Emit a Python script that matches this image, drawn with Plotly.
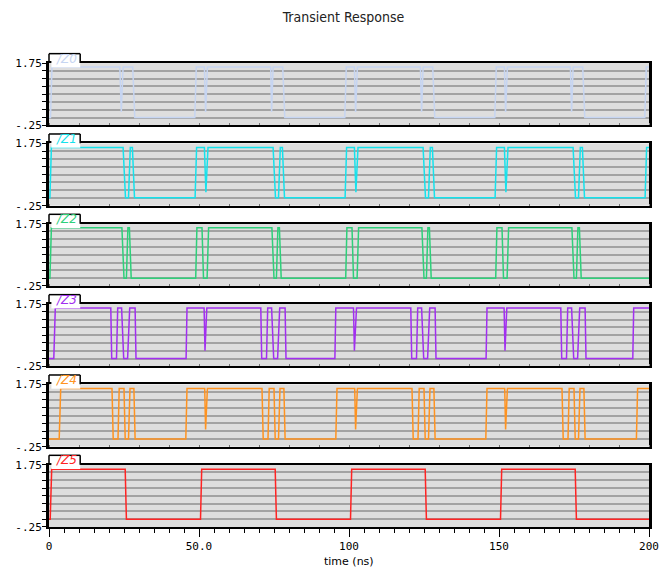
import plotly.graph_objects as go
from plotly.subplots import make_subplots

# ---------------- data (time in ns, voltage in V) ----------------
signal_names = ["/Z0", "/Z1", "/Z2", "/Z3", "/Z4", "/Z5"]
signal_colors = ["#c6d5f2", "#16e2ec", "#2ed07a", "#a22ff0", "#ff9320", "#ff2424"]

z0_t = [0, 0.5, 1.0, 23.6, 24.1, 24.7, 27.9, 28.6, 48.6, 49.1, 51.8, 52.2, 52.8,
        73.9, 74.2, 74.7, 77.9, 78.6, 98.6, 99.1, 101.8, 102.2, 102.8,
        123.8, 124.2, 124.7, 127.9, 128.6, 148.6, 149.1, 151.8, 152.2, 152.8,
        173.8, 174.2, 174.7, 177.9, 178.6, 198.6, 199.1, 200]
z0_v = [0, 0, 1.62, 1.62, 0.18, 1.62, 1.62, 0, 0, 1.62, 1.62, 0.18, 1.62,
        1.62, 0.18, 1.62, 1.62, 0, 0, 1.62, 1.62, 0.18, 1.62,
        1.62, 0.18, 1.62, 1.62, 0, 0, 1.62, 1.62, 0.18, 1.62,
        1.62, 0.18, 1.62, 1.62, 0, 0, 1.62, 1.62]

z1_t = [0, 0.3, 0.8, 24.7, 25.5, 26.5, 27.1, 27.8, 28.5, 48.7, 49.2, 51.8, 52.3, 53.0,
        74.7, 75.5, 76.5, 77.1, 77.8, 78.5, 98.7, 99.2, 101.8, 102.3, 103.0,
        124.7, 125.5, 126.5, 127.1, 127.8, 128.5, 148.7, 149.2, 151.8, 152.3, 153.0,
        174.7, 175.5, 176.5, 177.1, 177.8, 178.5, 198.7, 199.2, 200]
z1_v = [0, 0, 1.62, 1.62, 0, 0, 1.62, 1.62, 0, 0, 1.62, 1.62, 0.18, 1.62,
        1.62, 0, 0, 1.62, 1.62, 0, 0, 1.62, 1.62, 0.18, 1.62,
        1.62, 0, 0, 1.62, 1.62, 0, 0, 1.62, 1.62, 0.18, 1.62,
        1.62, 0, 0, 1.62, 1.62, 0, 0, 1.62, 1.62]

z2_t = [0, 0.3, 0.8, 24.3, 25.0, 25.8, 26.3, 26.8, 27.4, 48.9, 49.3, 51.0, 51.5, 52.7, 53.2,
        74.3, 75.0, 75.8, 76.3, 76.8, 77.4, 98.9, 99.3, 101.0, 101.5, 102.7, 103.2,
        124.3, 125.0, 125.8, 126.3, 126.8, 127.4, 148.9, 149.3, 151.0, 151.5, 152.7, 153.2,
        174.3, 175.0, 175.8, 176.3, 176.8, 177.4, 200]
z2_v = [0, 0, 1.62, 1.62, 0, 0, 1.62, 1.62, 0, 0, 1.62, 1.62, 0, 0, 1.62,
        1.62, 0, 0, 1.62, 1.62, 0, 0, 1.62, 1.62, 0, 0, 1.62,
        1.62, 0, 0, 1.62, 1.62, 0, 0, 1.62, 1.62, 0, 0, 1.62,
        1.62, 0, 0, 1.62, 1.62, 0, 0]

z3_t = [0, 1.6, 2.1, 20.6, 20.9, 22.5, 22.9, 24.2, 24.9, 26.2, 26.9, 28.7, 29.0,
        45.7, 46.0, 51.7, 52.0, 52.6,
        70.6, 70.9, 72.5, 72.9, 74.2, 74.9, 76.2, 76.9, 78.7, 79.0,
        95.3, 95.6, 101.5, 101.8, 102.5,
        120.6, 120.9, 122.5, 122.9, 124.2, 124.9, 126.2, 126.9, 128.7, 129.0,
        145.7, 146.0, 151.7, 152.0, 152.6,
        170.6, 170.9, 172.5, 172.9, 174.2, 174.9, 176.2, 176.9, 178.7, 179.0,
        194.6, 194.9, 200]
z3_v = [0, 0, 1.62, 1.62, 0, 0, 1.62, 1.62, 0, 0, 1.62, 1.62, 0,
        0, 1.62, 1.62, 0.25, 1.62,
        1.62, 0, 0, 1.62, 1.62, 0, 0, 1.62, 1.62, 0,
        0, 1.62, 1.62, 0.25, 1.62,
        1.62, 0, 0, 1.62, 1.62, 0, 0, 1.62, 1.62, 0,
        0, 1.62, 1.62, 0.25, 1.62,
        1.62, 0, 0, 1.62, 1.62, 0, 0, 1.62, 1.62, 0,
        0, 1.62, 1.62]

z4_t = [0, 3.4, 3.9, 21.0, 21.4, 23.0, 23.4, 25.0, 25.4, 26.5, 27.0, 28.3, 28.7,
        45.6, 46.0, 51.9, 52.2, 52.8,
        71.0, 71.4, 73.0, 73.4, 75.0, 75.4, 76.5, 77.0, 78.3, 78.7,
        95.6, 96.0, 101.9, 102.2, 102.8,
        121.0, 121.4, 123.0, 123.4, 125.0, 125.4, 126.5, 127.0, 128.3, 128.7,
        145.6, 146.0, 151.9, 152.2, 152.8,
        171.0, 171.4, 173.0, 173.4, 175.0, 175.4, 176.5, 177.0, 178.3, 178.7,
        195.8, 196.2, 200]
z4_v = [0, 0, 1.62, 1.62, 0, 0, 1.62, 1.62, 0, 0, 1.62, 1.62, 0,
        0, 1.62, 1.62, 0.3, 1.62,
        1.62, 0, 0, 1.62, 1.62, 0, 0, 1.62, 1.62, 0,
        0, 1.62, 1.62, 0.3, 1.62,
        1.62, 0, 0, 1.62, 1.62, 0, 0, 1.62, 1.62, 0,
        0, 1.62, 1.62, 0.3, 1.62,
        1.62, 0, 0, 1.62, 1.62, 0, 0, 1.62, 1.62, 0,
        0, 1.62, 1.62]

z5_t = [0, 0.4, 0.9, 25.4, 25.8, 50.5, 50.9, 75.4, 75.8, 100.5, 100.9,
        125.4, 125.8, 150.5, 150.9, 175.4, 175.8, 200]
z5_v = [0, 0, 1.6, 1.6, 0, 0, 1.6, 1.6, 0, 0, 1.6,
        1.6, 0, 0, 1.6, 1.6, 0, 0]

series_t = [z0_t, z1_t, z2_t, z3_t, z4_t, z5_t]
series_v = [z0_v, z1_v, z2_v, z3_v, z4_v, z5_v]

x_tick_vals = [0, 50, 100, 150, 200]
x_tick_text = ["0", "50.0", "100", "150", "200"]
y_tick_vals = [-0.25, 1.75]
y_tick_text = ["-.25", "1.75"]

# ---------------- figure ----------------
n = len(signal_names)
fig = make_subplots(rows=n, cols=1, shared_xaxes=True, vertical_spacing=0.0388)

tick_font = dict(family="DejaVu Sans Mono, monospace", size=11, color="black")

for i in range(n):
    r = i + 1
    fig.add_trace(go.Scatter(x=series_t[i], y=series_v[i], mode="lines",
                             line=dict(color=signal_colors[i], width=1.5),
                             showlegend=False, hoverinfo="skip"), row=r, col=1)
    fig.update_yaxes(range=[-0.25, 1.75], tickvals=y_tick_vals, ticktext=y_tick_text,
                     ticks="outside", ticklen=4, tickwidth=1, tickcolor="black",
                     ticklabelstandoff=-2, automargin=False,
                     tickfont=tick_font, showgrid=False, zeroline=False,
                     showline=True, linewidth=3, linecolor="black", mirror=True,
                     minor=dict(tickmode="linear", tick0=-0.25, dtick=0.25,
                                ticks="outside", ticklen=4, tickcolor="black",
                                showgrid=True, gridcolor="#a3a3a3", gridwidth=2),
                     row=r, col=1)
    last = (r == n)
    fig.update_xaxes(range=[0, 200], showgrid=False, zeroline=False, automargin=False,
                     showline=True, linewidth=2, linecolor="black", mirror=True,
                     tickvals=x_tick_vals, ticktext=x_tick_text,
                     showticklabels=last, tickfont=tick_font,
                     ticks="outside" if last else "", ticklen=8, tickcolor="black",
                     minor=dict(tickmode="linear", tick0=0, dtick=5,
                                ticks="outside", ticklen=4, tickcolor="black") if last else
                           dict(tickmode="linear", tick0=0, dtick=10,
                                ticks="inside", ticklen=2, tickcolor="#777777"),
                     row=r, col=1)

    xs = "x" if r == 1 else f"x{r}"
    ys = "y" if r == 1 else f"y{r}"
    xd, yd = xs + " domain", ys + " domain"
    # name tab
    fig.add_shape(type="rect", xref=xd, yref=yd, x0=0.004, x1=0.052, y0=0.93, y1=1.15,
                  fillcolor="white", line=dict(width=0), layer="above")
    for (a0, b0, a1, b1) in [(0.0, 1.0, 0.0, 1.15), (0.0, 1.15, 0.052, 1.15),
                             (0.052, 1.15, 0.052, 1.0)]:
        fig.add_shape(type="line", xref=xd, yref=yd, x0=a0, y0=b0, x1=a1, y1=b1,
                      line=dict(color="black", width=1.5), layer="above")
    fig.add_annotation(xref=xd, yref=yd, x=0.008, y=1.07, xanchor="left", yanchor="middle",
                       text="<i>" + signal_names[i] + "</i>", showarrow=False,
                       font=dict(family="DejaVu Sans, sans-serif", size=12,
                                 color=signal_colors[i]))

fig.add_annotation(xref="paper", yref="paper", x=0.5, y=-0.0754, xanchor="center",
                   yanchor="middle", text="time (ns)", showarrow=False,
                   font=dict(family="DejaVu Sans, sans-serif", size=11, color="black"))

fig.update_layout(
    width=667, height=570,
    margin=dict(l=49, r=18, t=63, b=43, autoexpand=False),
    paper_bgcolor="white", plot_bgcolor="#dedede",
    title=dict(text="Transient Response", x=0.515, xanchor="center", y=0.97, yanchor="middle",
               font=dict(family="Liberation Sans Narrow, DejaVu Sans Condensed, Liberation Sans, sans-serif",
                         size=14, color="#222222")),
)

fig.write_html("out.html", config={"displayModeBar": False},
               post_script="document.body.style.margin='0';document.body.style.overflow='hidden';")
